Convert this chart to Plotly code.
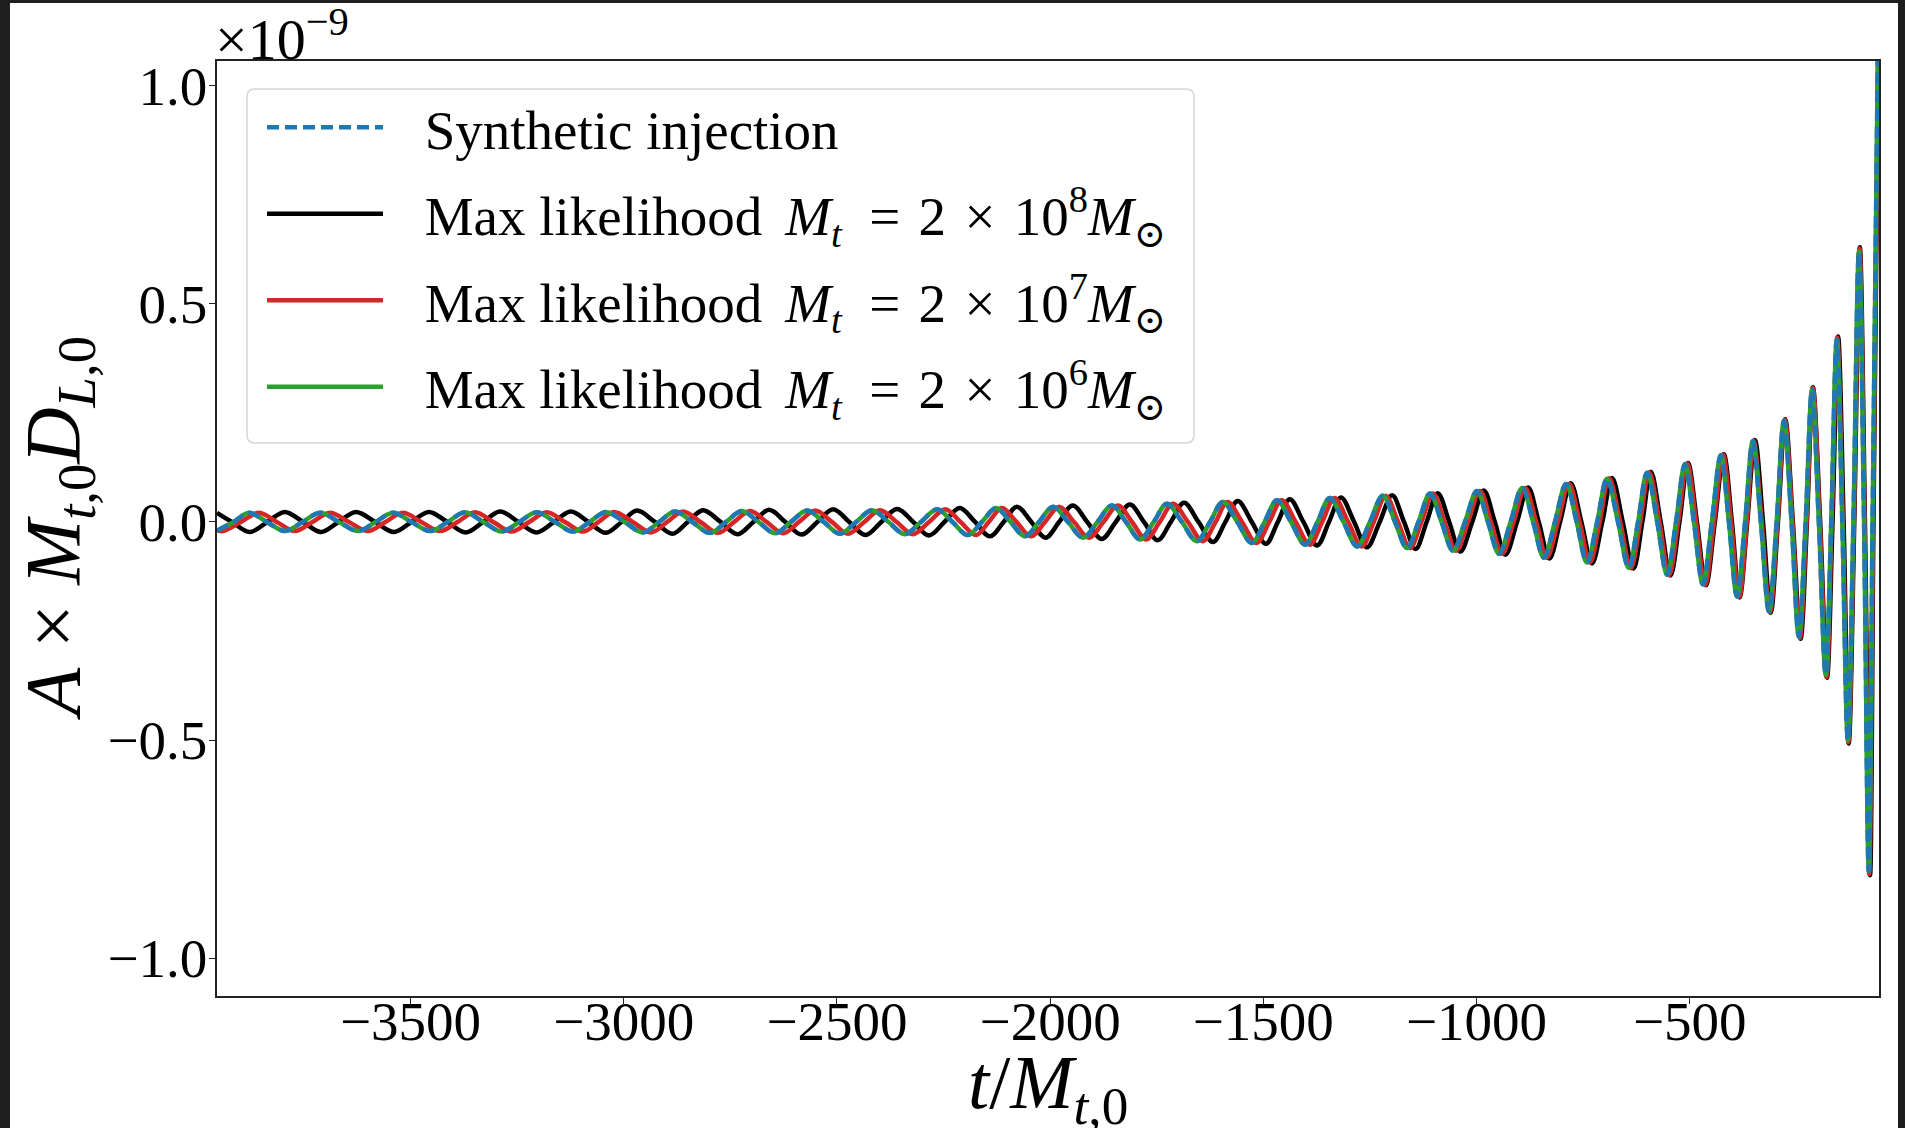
import plotly.graph_objects as go

# ---------------- data (amplitude in units of 1e-9, time in M_t,0) ----------------
# Synthetic injection (blue): extrema (start and end = values at the frame edges)
t_blue_ext = [-3954, -3879, -3795, -3712, -3623, -3541, -3454, -3372, -3286, -3204, -3119,
              -3042, -2955, -2880, -2798, -2723, -2645, -2570, -2493, -2418, -2341, -2265,
              -2193, -2127, -2059, -1993, -1923, -1855, -1789, -1726, -1656, -1595, -1527,
              -1468, -1402, -1344, -1280, -1220, -1163, -1109, -1055, -999, -947, -893,
              -842, -790, -741, -694, -643, -600, -553, -511, -469, -427, -389, -352,
              -314, -279, -244, -213, -181, -155, -129, -103, -80, -56]
h_blue_ext = [-0.020, 0.021, -0.021, 0.021, -0.021, 0.021, -0.021, 0.022, -0.022, 0.022, -0.022,
              0.023, -0.024, 0.024, -0.025, 0.025, -0.026, 0.026, -0.027, 0.027, -0.028, 0.029,
              -0.030, 0.032, -0.033, 0.035, -0.036, 0.038, -0.040, 0.042, -0.044, 0.046, -0.048,
              0.050, -0.052, 0.055, -0.056, 0.060, -0.060, 0.065, -0.066, 0.071, -0.073, 0.078,
              -0.082, 0.087, -0.093, 0.099, -0.105, 0.113, -0.121, 0.133, -0.143, 0.153, -0.171, 0.185,
              -0.205, 0.232, -0.263, 0.303, -0.350, 0.418, -0.500, 0.620, -0.800, 1.30]
t_blue_zero = [-3915, -3837, -3753, -3668, -3582, -3498, -3413, -3329, -3245, -3161, -3080,
               -2998, -2917, -2839, -2760, -2684, -2608, -2531, -2455, -2379, -2303, -2229,
               -2160, -2093, -2026, -1958, -1889, -1822, -1757, -1691, -1625, -1561, -1497,
               -1435, -1373, -1312, -1250, -1191, -1136, -1082, -1027, -973, -920, -867,
               -816, -765, -717, -668, -621, -576, -532, -490, -448, -408, -370, -333,
               -296, -261, -228, -197, -168, -142, -116, -91, -71]

# Max likelihood Mt = 2e6 (green): coincides with the injection within a pixel
t_green_ext = [-3954, -3879, -3795, -3712, -3623, -3541, -3454, -3372, -3286, -3204, -3119,
               -3042, -2955, -2880, -2798, -2723, -2645, -2570, -2493, -2418, -2341, -2265,
               -2193, -2127, -2059, -1993, -1923, -1855, -1789, -1726, -1656, -1595, -1527,
               -1468, -1402, -1344, -1280, -1220, -1163, -1109, -1055, -999, -947, -893,
               -842, -790, -741, -694, -643, -600, -553, -511, -469, -427, -389, -352,
               -314, -279, -244, -213, -181, -155, -129, -103, -80, -56]
h_green_ext = [-0.020, 0.021, -0.021, 0.021, -0.021, 0.021, -0.021, 0.022, -0.022, 0.022, -0.022,
               0.023, -0.024, 0.024, -0.025, 0.025, -0.026, 0.026, -0.027, 0.027, -0.028, 0.029,
               -0.030, 0.032, -0.033, 0.035, -0.036, 0.038, -0.040, 0.042, -0.044, 0.046, -0.048,
               0.050, -0.052, 0.055, -0.056, 0.060, -0.060, 0.065, -0.066, 0.071, -0.073, 0.078,
               -0.082, 0.087, -0.093, 0.099, -0.105, 0.113, -0.121, 0.133, -0.143, 0.153, -0.171, 0.185,
               -0.205, 0.232, -0.263, 0.303, -0.350, 0.418, -0.500, 0.620, -0.800, 1.30]
t_green_zero = [-3915, -3837, -3753, -3668, -3582, -3498, -3413, -3329, -3245, -3161, -3080,
                -2998, -2917, -2839, -2760, -2684, -2608, -2531, -2455, -2379, -2303, -2229,
                -2160, -2093, -2026, -1958, -1889, -1822, -1757, -1691, -1625, -1561, -1497,
                -1435, -1373, -1312, -1250, -1191, -1136, -1082, -1027, -973, -920, -867,
                -816, -765, -717, -668, -621, -576, -532, -490, -448, -408, -370, -333,
                -296, -261, -228, -197, -168, -142, -116, -91, -71]

# Max likelihood Mt = 2e7 (red): slightly lagging the injection early on
t_red_ext = [-3954, -3940, -3856, -3772, -3689, -3600, -3518, -3431, -3349, -3263, -3181, -3096,
             -3023, -2936, -2861, -2779, -2704, -2626, -2551, -2474, -2399, -2322, -2246,
             -2174, -2113, -2045, -1979, -1909, -1841, -1775, -1712, -1642, -1584, -1516,
             -1457, -1391, -1333, -1269, -1213, -1156, -1102, -1048, -992, -940, -886,
             -835, -783, -734, -689, -638, -595, -548, -506, -464, -422, -384, -350,
             -312, -277, -242, -211, -179, -154, -128, -102, -79, -56]
h_red_ext = [-0.019, -0.021, 0.021, -0.021, 0.021, -0.021, 0.021, -0.021, 0.022, -0.022, 0.022, -0.022,
             0.023, -0.024, 0.024, -0.025, 0.025, -0.026, 0.026, -0.027, 0.027, -0.028, 0.029,
             -0.030, 0.032, -0.033, 0.035, -0.036, 0.038, -0.040, 0.042, -0.044, 0.046, -0.048,
             0.050, -0.052, 0.055, -0.056, 0.060, -0.060, 0.065, -0.066, 0.071, -0.073, 0.078,
             -0.082, 0.087, -0.093, 0.100, -0.106, 0.114, -0.122, 0.134, -0.144, 0.154, -0.172, 0.187,
             -0.207, 0.235, -0.266, 0.307, -0.355, 0.423, -0.505, 0.627, -0.807, 1.28]
t_red_zero = [-3898, -3814, -3730, -3645, -3559, -3475, -3390, -3306, -3222, -3138, -3059,
              -2979, -2898, -2820, -2741, -2665, -2589, -2512, -2436, -2360, -2284, -2210,
              -2144, -2079, -2012, -1944, -1875, -1808, -1743, -1677, -1612, -1550, -1486,
              -1424, -1362, -1301, -1241, -1184, -1129, -1075, -1020, -966, -913, -860,
              -809, -758, -711, -663, -616, -571, -527, -485, -443, -403, -366, -331,
              -294, -259, -226, -195, -167, -141, -115, -90, -70]

# Max likelihood Mt = 2e8 (black): half a cycle out of phase early, converging late
t_black_ext = [-3954, -3877, -3795, -3710, -3628, -3539, -3457, -3371, -3290, -3205, -3124,
               -3042, -2969, -2886, -2814, -2733, -2659, -2583, -2509, -2433, -2359, -2284,
               -2212, -2141, -2078, -2011, -1947, -1879, -1813, -1748, -1686, -1618, -1560,
               -1494, -1438, -1374, -1318, -1257, -1198, -1143, -1091, -1038, -983, -932,
               -879, -829, -779, -729, -682, -632, -591, -545, -504, -462, -420, -383,
               -347, -310, -276, -240, -211, -178, -152, -127, -101, -77, -56]
h_black_ext = [0.021, -0.023, 0.023, -0.023, 0.023, -0.023, 0.023, -0.024, 0.024, -0.024, 0.024,
               -0.025, 0.026, -0.027, 0.027, -0.028, 0.028, -0.029, 0.029, -0.030, 0.030, -0.031,
               0.032, -0.033, 0.035, -0.036, 0.038, -0.039, 0.040, -0.042, 0.044, -0.046, 0.048,
               -0.050, 0.052, -0.054, 0.056, -0.058, 0.061, -0.062, 0.066, -0.068, 0.072, -0.075,
               0.079, -0.084, 0.089, -0.095, 0.101, -0.107, 0.115, -0.123, 0.135, -0.145, 0.155, -0.173,
               0.188, -0.208, 0.236, -0.268, 0.309, -0.357, 0.425, -0.508, 0.630, -0.810, 1.20]
t_black_zero = [-3919, -3836, -3752, -3669, -3583, -3498, -3414, -3330, -3247, -3164, -3083,
                -3005, -2927, -2850, -2773, -2696, -2621, -2546, -2471, -2396, -2321, -2248,
                -2176, -2109, -2044, -1979, -1913, -1846, -1780, -1717, -1652, -1589, -1527,
                -1466, -1406, -1346, -1287, -1227, -1170, -1117, -1064, -1010, -957, -905,
                -854, -804, -754, -705, -657, -611, -568, -524, -483, -441, -401, -365,
                -328, -293, -258, -225, -194, -165, -139, -114, -89, -69]

x_tick_vals = [-3500, -3000, -2500, -2000, -1500, -1000, -500]
x_tick_text = ["\u22123500", "\u22123000", "\u22122500", "\u22122000", "\u22121500", "\u22121000", "\u2212500"]
y_tick_vals = [-1.0, -0.5, 0.0, 0.5, 1.0]
y_tick_text = ["\u22121.0", "\u22120.5", "0.0", "0.5", "1.0"]

NB = "\u00a0\u00a0\u2006"
def ml_label(exp):
    return (NB + "Max likelihood\u2006 <i>M<sub>t</sub></i>\u2002=\u2004" + "2\u2004\u00d7\u2004"
            + "10<sup>" + exp + "</sup><i>M</i><sub>\u2299</sub>")

legend_names = [NB + "Synthetic injection", ml_label("8"), ml_label("7"), ml_label("6")]


def merged(t_ext, h_ext, t_zero):
    pts = sorted(list(zip(t_ext, h_ext)) + [(t, 0.0) for t in t_zero])
    return [p[0] for p in pts], [p[1] for p in pts]


FONT = "Liberation Serif, DejaVu Serif, serif"
fig = go.Figure()

series = [
    (t_black_ext, h_black_ext, t_black_zero, "black", "solid", legend_names[1], 2),
    (t_red_ext, h_red_ext, t_red_zero, "#d62728", "solid", legend_names[2], 3),
    (t_green_ext, h_green_ext, t_green_zero, "#2ca02c", "solid", legend_names[3], 4),
    (t_blue_ext, h_blue_ext, t_blue_zero, "#1f77b4", "12px,6px", legend_names[0], 1),
]
for te, he, tz, col, dash, name, rank in series:
    tx, hy = merged(te, he, tz)
    fig.add_trace(go.Scatter(
        x=tx, y=hy, mode="lines", name=name, legendrank=rank, legendgroup=name,
        line=dict(color=col, width=4.5, dash=dash, shape="spline", smoothing=1.0),
    ))

W, H = 1905, 1128
L, R, T, B = 217, 26, 61, 132
pw, ph = W - L - R, H - T - B

def px_x(x):
    return (x - L) / pw

def px_y(y):
    return (H - B - y) / ph

# white figure page inside the dark window border
fig.add_shape(type="rect", xref="paper", yref="paper",
              x0=px_x(10), x1=px_x(1898), y0=px_y(1128), y1=px_y(3),
              fillcolor="white", line_width=0, layer="below")

# legend frame with rounded corners
lx0, lx1, ly0, ly1, rr = 247, 1194, 89, 443, 8
frame = (f"M {px_x(lx0 + rr)} {px_y(ly0)} L {px_x(lx1 - rr)} {px_y(ly0)} "
         f"Q {px_x(lx1)} {px_y(ly0)} {px_x(lx1)} {px_y(ly0 + rr)} "
         f"L {px_x(lx1)} {px_y(ly1 - rr)} Q {px_x(lx1)} {px_y(ly1)} {px_x(lx1 - rr)} {px_y(ly1)} "
         f"L {px_x(lx0 + rr)} {px_y(ly1)} Q {px_x(lx0)} {px_y(ly1)} {px_x(lx0)} {px_y(ly1 - rr)} "
         f"L {px_x(lx0)} {px_y(ly0 + rr)} Q {px_x(lx0)} {px_y(ly0)} {px_x(lx0 + rr)} {px_y(ly0)} Z")
fig.add_shape(type="path", xref="paper", yref="paper", path=frame,
              fillcolor="rgba(255,255,255,0.8)", line=dict(color="#d6d6d6", width=1.5), layer="above")

# offset text of the y axis
fig.add_annotation(text="\u00d710<sup>\u22129</sup>", xref="paper", yref="paper",
                   x=0, y=1, xanchor="left", yanchor="bottom", showarrow=False,
                   yshift=-13, xshift=-4, font=dict(family=FONT, size=58, color="black"))

# axis titles
fig.add_annotation(text="<i>t</i>/<i>M</i><sub><i>t</i>,0</sub>", xref="paper", yref="paper",
                   x=0.5, y=px_y(1088), xanchor="center", yanchor="middle", showarrow=False,
                   font=dict(family=FONT, size=76, color="black"))
fig.add_annotation(text="<i>A</i> \u00d7 <i>M</i><sub><i>t</i>,0</sub><i>D</i><sub><i>L</i>,0</sub>",
                   xref="paper", yref="paper", x=px_x(57), y=0.5, textangle=-90,
                   xanchor="center", yanchor="middle", showarrow=False,
                   font=dict(family=FONT, size=78, color="black"))

fig.update_layout(
    width=W, height=H,
    margin=dict(l=L, r=R, t=T, b=B, autoexpand=False),
    paper_bgcolor="#1e1e1e",
    plot_bgcolor="white",
    font=dict(family=FONT, size=55, color="black"),
    showlegend=True,
    legend=dict(
        x=px_x(262), y=px_y(85), xanchor="left", yanchor="top",
        bgcolor="rgba(0,0,0,0)", borderwidth=0,
        font=dict(family=FONT, size=55, color="black"),
        itemwidth=116, tracegroupgap=12, traceorder="grouped",
    ),
    xaxis=dict(
        range=[-3954, -56], tickmode="array", tickvals=x_tick_vals, ticktext=x_tick_text,
        showgrid=False, zeroline=False, showline=True, linecolor="#222", linewidth=1.5,
        mirror=True, ticks="outside", ticklen=6, tickwidth=1.2, tickcolor="#222",
        tickfont=dict(family=FONT, size=55), automargin=False, ticklabelstandoff=-30,
    ),
    yaxis=dict(
        range=[-1.087, 1.057], tickmode="array", tickvals=y_tick_vals, ticktext=y_tick_text,
        showgrid=False, zeroline=False, showline=True, linecolor="#222", linewidth=1.5,
        mirror=True, ticks="outside", ticklen=6, tickwidth=1.2, tickcolor="#222",
        tickfont=dict(family=FONT, size=55), automargin=False, ticklabelstandoff=-9,
    ),
)

fig.write_html("out.html")
